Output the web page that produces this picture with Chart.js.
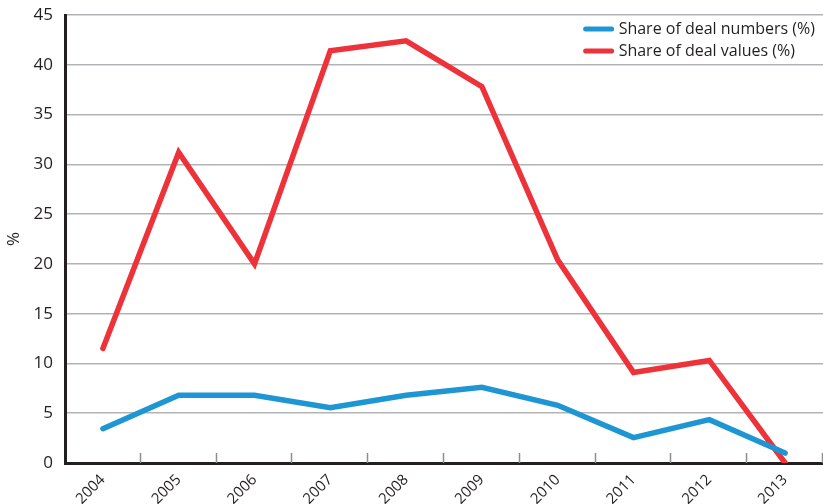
<!DOCTYPE html>
<html>
<head>
<meta charset="utf-8">
<script src="https://cdn.jsdelivr.net/npm/chart.js@4.4.1/dist/chart.umd.min.js"></script>
<style>
  html, body { margin: 0; padding: 0; background: #fff; }
  #wrap { width: 823px; height: 504px; }
</style>
</head>
<body>
<div id="wrap"><canvas id="dealChart"></canvas></div>
<script>
var years = ["2004", "2005", "2006", "2007", "2008", "2009", "2010", "2011", "2012", "2013"];
var dealNumbers = [3.45, 6.8, 6.8, 5.55, 6.8, 7.6, 5.8, 2.55, 4.35, 1.0];
var dealValues = [11.5, 31.2, 20.0, 41.4, 42.4, 37.8, 20.4, 9.1, 10.3, 0];
var yMin = 0;
var yMax = 45;
var yStep = 5;

var fontFamily = "'Open Sans', sans-serif";
var textColor = "#231f20";

// small tick marks pointing up from the x axis, between categories
var innerTicks = {
    id: "innerTicks",
    beforeDatasetsDraw(chart) {
        const ctx = chart.ctx;
        const x = chart.scales.x;
        const area = chart.chartArea;
        const step = x.getPixelForTick(1) - x.getPixelForTick(0);
        ctx.save();
        ctx.strokeStyle = "#8c8f92";
        ctx.lineWidth = 1.5;
        ctx.beginPath();
        for (let i = 0; i < years.length; i++) {
            const px = Math.round(x.getPixelForTick(i) + step / 2) - 0.5;
            ctx.moveTo(px, area.bottom);
            ctx.lineTo(px, area.bottom - 10);
        }
        ctx.stroke();
        ctx.restore();
    }
};

// legend drawn inside the plot, top right
var insideLegend = {
    id: "insideLegend",
    afterDraw(chart) {
        const ctx = chart.ctx;
        const area = chart.chartArea;
        const sets = chart.data.datasets;
        ctx.save();
        ctx.font = "16px " + fontFamily;
        let maxW = 0;
        sets.forEach(ds => {
            maxW = Math.max(maxW, ctx.measureText(ds.label).width);
        });
        const textX = area.right - 8 - maxW;
        const lineEnd = textX - 7;
        const lineStart = lineEnd - 26;
        sets.forEach((ds, i) => {
            const y = area.top + 14 + i * 22;
            ctx.strokeStyle = ds.borderColor;
            ctx.lineWidth = 5;
            ctx.lineCap = "round";
            ctx.beginPath();
            ctx.moveTo(lineStart, y);
            ctx.lineTo(lineEnd, y);
            ctx.stroke();
            ctx.fillStyle = textColor;
            ctx.textBaseline = "middle";
            ctx.textAlign = "left";
            ctx.fillText(ds.label, textX, y);
        });
        ctx.restore();
    }
};

new Chart(document.getElementById("dealChart"), {
    type: "line",
    data: {
        labels: years,
        datasets: [{
            label: "Share of deal numbers (%)",
            data: dealNumbers,
            borderColor: "#1f96d4",
            backgroundColor: "#1f96d4",
            borderWidth: 5.5,
            pointRadius: 0,
            tension: 0,
            borderCapStyle: "round",
            borderJoinStyle: "miter"
        }, {
            label: "Share of deal values (%)",
            data: dealValues,
            borderColor: "#ee3239",
            backgroundColor: "#ee3239",
            borderWidth: 5.5,
            pointRadius: 0,
            tension: 0,
            borderCapStyle: "round",
            borderJoinStyle: "miter"
        }]
    },
    options: {
        responsive: true,
        maintainAspectRatio: false,
        animation: false,
        layout: {
            padding: { top: 15, right: 0, bottom: 0, left: 0 }
        },
        plugins: {
            legend: { display: false },
            tooltip: { enabled: false }
        },
        scales: {
            x: {
                offset: true,
                grid: {
                    color: "rgba(0,0,0,0)",
                    drawTicks: false,
                    offset: true
                },
                border: { display: true, color: textColor, width: 3 },
                ticks: {
                    color: textColor,
                    font: { family: fontFamily, size: 15 },
                    maxRotation: 45,
                    minRotation: 45,
                    padding: 8
                },
                afterFit: scale => {
                    scale.height = 41;
                    scale.paddingLeft = 0;
                    scale.paddingRight = 0;
                }
            },
            y: {
                min: yMin,
                max: yMax,
                grid: {
                    color: "#b1b4b7",
                    lineWidth: 1.5,
                    drawTicks: false
                },
                border: { display: true, color: textColor, width: 3 },
                ticks: {
                    stepSize: yStep,
                    color: textColor,
                    font: { family: fontFamily, size: 17 },
                    padding: 12
                },
                title: {
                    display: true,
                    text: "%",
                    color: textColor,
                    font: { family: fontFamily, size: 17 },
                    padding: { top: 4, bottom: 0 }
                },
                afterFit: scale => {
                    scale.width = 65;
                    scale.paddingTop = 0;
                    scale.paddingBottom = 0;
                }
            }
        }
    },
    plugins: [innerTicks, insideLegend]
});
</script>
</body>
</html>
